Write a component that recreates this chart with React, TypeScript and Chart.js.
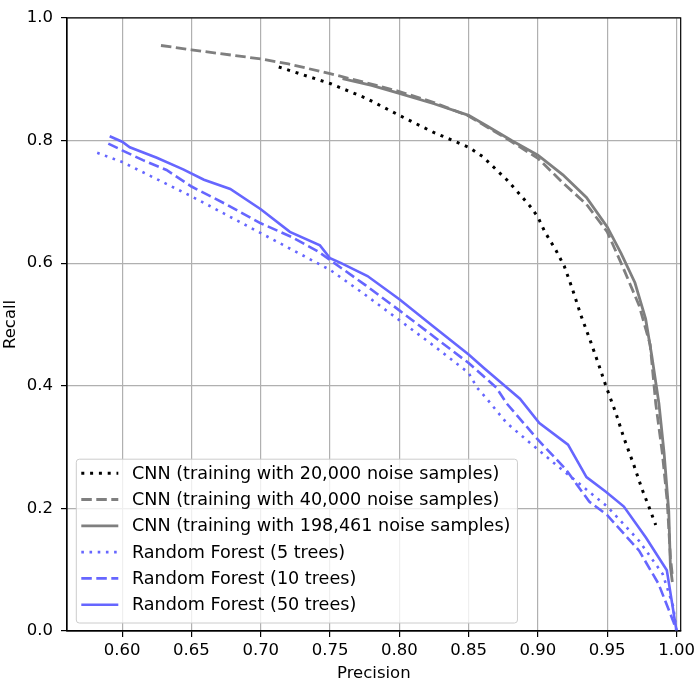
import React, { useEffect, useRef } from 'react';
import { Chart, registerables } from 'chart.js';

Chart.register(...registerables);

// precision / recall pairs
const cnn20kPrecision = [0.713, 0.75, 0.776, 0.8, 0.824, 0.85, 0.86, 0.8775, 0.887, 0.895, 0.9, 0.905, 0.913, 0.919, 0.925, 0.931, 0.938, 0.943, 0.949, 0.956, 0.962, 0.969, 0.975, 0.98, 0.985];
const cnn20kRecall = [0.92, 0.893, 0.869, 0.841, 0.814, 0.789, 0.774, 0.736, 0.712, 0.691, 0.675, 0.651, 0.621, 0.595, 0.557, 0.515, 0.472, 0.44, 0.4, 0.357, 0.315, 0.272, 0.232, 0.203, 0.173];

const cnn40kPrecision = [0.628, 0.65, 0.7, 0.72, 0.75, 0.775, 0.8, 0.825, 0.85, 0.8775, 0.9, 0.918, 0.935, 0.95, 0.961, 0.973, 0.981, 0.985, 0.9897, 0.9933, 0.9956, 0.997];
const cnn40kRecall = [0.955, 0.948, 0.933, 0.925, 0.909, 0.895, 0.88, 0.862, 0.84, 0.803, 0.771, 0.731, 0.696, 0.651, 0.595, 0.531, 0.467, 0.371, 0.291, 0.211, 0.12, 0.09];

const cnn198kPrecision = [0.759, 0.78, 0.8, 0.825, 0.85, 0.863, 0.881, 0.9, 0.918, 0.935, 0.95, 0.96, 0.97, 0.9777, 0.982, 0.9873, 0.991, 0.9944, 0.9956, 0.997];
const cnn198kRecall = [0.901, 0.89, 0.877, 0.86, 0.841, 0.824, 0.8, 0.776, 0.744, 0.707, 0.659, 0.616, 0.568, 0.509, 0.451, 0.371, 0.291, 0.195, 0.104, 0.08];

const rf5Precision = [0.582, 0.6, 0.65, 0.7, 0.75, 0.775, 0.8, 0.825, 0.85, 0.856, 0.863, 0.8775, 0.9, 0.911, 0.937, 0.95, 0.973, 0.99, 0.9976, 1.0];
const rf5Recall = [0.78, 0.765, 0.709, 0.649, 0.589, 0.549, 0.507, 0.465, 0.421, 0.397, 0.379, 0.339, 0.296, 0.275, 0.227, 0.203, 0.147, 0.093, 0.04, 0.0];

const rf10Precision = [0.59, 0.6, 0.615, 0.632, 0.65, 0.675, 0.7, 0.722, 0.7415, 0.75, 0.775, 0.8, 0.825, 0.85, 0.87, 0.8775, 0.9, 0.92, 0.937, 0.95, 0.973, 0.987, 0.9976, 1.0];
const rf10Recall = [0.795, 0.784, 0.768, 0.752, 0.725, 0.696, 0.665, 0.643, 0.619, 0.605, 0.565, 0.523, 0.48, 0.437, 0.397, 0.371, 0.312, 0.264, 0.211, 0.189, 0.131, 0.077, 0.016, 0.0];

const rf50Precision = [0.591, 0.6, 0.6055, 0.625, 0.644, 0.659, 0.678, 0.7, 0.721, 0.7427, 0.75, 0.758, 0.777, 0.8, 0.825, 0.85, 0.861, 0.8775, 0.887, 0.901, 0.9217, 0.935, 0.949, 0.962, 0.978, 0.993, 1.0];
const rf50Recall = [0.807, 0.798, 0.789, 0.772, 0.753, 0.736, 0.721, 0.688, 0.651, 0.629, 0.608, 0.6, 0.579, 0.541, 0.496, 0.451, 0.429, 0.397, 0.379, 0.339, 0.304, 0.251, 0.227, 0.203, 0.152, 0.099, 0.0];

const seriesLabels = [
  'CNN (training with 20,000 noise samples)',
  'CNN (training with 40,000 noise samples)',
  'CNN (training with 198,461 noise samples)',
  'Random Forest (5 trees)',
  'Random Forest (10 trees)',
  'Random Forest (50 trees)',
];

const xTicks = [0.6, 0.65, 0.7, 0.75, 0.8, 0.85, 0.9, 0.95, 1.0];
const yTicks = [0.0, 0.2, 0.4, 0.6, 0.8, 1.0];

const FONT = 'DejaVu Sans';

const pts = (xs: number[], ys: number[]) => xs.map((x, i) => ({ x, y: ys[i] }));

// top + right spines
const boxPlugin = {
  id: 'boxSpines',
  afterDatasetsDraw(chart: any) {
    const { ctx, chartArea } = chart;
    ctx.save();
    ctx.strokeStyle = '#000';
    ctx.lineWidth = 1.2;
    ctx.strokeRect(chartArea.left, chartArea.top, chartArea.right - chartArea.left, chartArea.bottom - chartArea.top);
    ctx.restore();
  },
};

// matplotlib-like legend box inside the axes (lower left)
const legendPlugin = {
  id: 'boxLegend',
  afterDraw(chart: any) {
    const { ctx, chartArea } = chart;
    const datasets = chart.data.datasets;
    const rowH = 26.3;
    ctx.save();
    ctx.font = `17.6px "${FONT}"`;
    let maxW = 0;
    datasets.forEach((ds: any) => {
      maxW = Math.max(maxW, ctx.measureText(ds.label).width);
    });
    const w = 55.7 + maxW + 7;
    const h = rowH * datasets.length + 6;
    const x = chartArea.left + 9.3;
    const y = chartArea.bottom - 8 - h;
    ctx.beginPath();
    ctx.roundRect(x, y, w, h, 3);
    ctx.fillStyle = 'rgba(255,255,255,0.8)';
    ctx.fill();
    ctx.strokeStyle = '#cccccc';
    ctx.lineWidth = 1;
    ctx.stroke();
    datasets.forEach((ds: any, i: number) => {
      const cy = y + 14 + i * rowH;
      ctx.beginPath();
      ctx.setLineDash(ds.borderDash || []);
      ctx.strokeStyle = ds.borderColor;
      ctx.lineWidth = ds.borderWidth;
      ctx.moveTo(x + 5, cy);
      ctx.lineTo(x + 42, cy);
      ctx.stroke();
      ctx.setLineDash([]);
      ctx.fillStyle = '#000';
      ctx.textBaseline = 'middle';
      ctx.textAlign = 'left';
      ctx.fillText(ds.label, x + 55.7, cy + 1);
    });
    ctx.restore();
  },
};

const App: React.FC = () => {
  const chartRef = useRef<HTMLCanvasElement>(null);
  const chartInstance = useRef<Chart | null>(null);

  useEffect(() => {
    if (chartRef.current) {
      const ctx = chartRef.current.getContext('2d');

      if (chartInstance.current) {
        chartInstance.current.destroy();
      }

      const gray = '#7f7f7f';
      const blue = '#6666ff';

      chartInstance.current = new Chart(ctx as CanvasRenderingContext2D, {
        type: 'scatter',
        data: {
          datasets: [
            { label: seriesLabels[0], data: pts(cnn20kPrecision, cnn20kRecall), borderColor: '#000', borderWidth: 3, borderDash: [3, 5.8] },
            { label: seriesLabels[1], data: pts(cnn40kPrecision, cnn40kRecall), borderColor: gray, borderWidth: 2.8, borderDash: [10.5, 4.5] },
            { label: seriesLabels[2], data: pts(cnn198kPrecision, cnn198kRecall), borderColor: gray, borderWidth: 2.8 },
            { label: seriesLabels[3], data: pts(rf5Precision, rf5Recall), borderColor: blue, borderWidth: 2.6, borderDash: [2.6, 5.6] },
            { label: seriesLabels[4], data: pts(rf10Precision, rf10Recall), borderColor: blue, borderWidth: 2.6, borderDash: [10.5, 4.5] },
            { label: seriesLabels[5], data: pts(rf50Precision, rf50Recall), borderColor: blue, borderWidth: 2.6 },
          ].map((d) => ({ ...d, showLine: true, pointRadius: 0, backgroundColor: 'transparent', tension: 0 })) as any,
        },
        options: {
          animation: false,
          responsive: false,
          layout: { padding: { top: 7, right: 15, left: 0, bottom: 0 } },
          plugins: {
            legend: { display: false },
            tooltip: { enabled: false },
          },
          scales: {
            x: {
              type: 'linear',
              min: 0.5602,
              max: 1.003,
              afterBuildTicks: (scale: any) => {
                scale.ticks = xTicks.map((value) => ({ value }));
              },
              afterFit: (scale: any) => {
                scale.height = 53;
              },
              ticks: {
                color: '#000',
                font: { family: FONT, size: 16.5 },
                padding: 4,
                maxRotation: 0,
                callback: (v: any) => Number(v).toFixed(2),
              },
              grid: {
                color: '#b0b0b0',
                lineWidth: 1.2,
                tickColor: '#000',
                tickLength: 6,
                tickWidth: 1.2,
              },
              border: { display: true, color: '#000', width: 1.2 },
              title: {
                display: true,
                text: 'Precision',
                color: '#000',
                font: { family: FONT, size: 16.5 },
                padding: { top: 0, bottom: 0 },
              },
            },
            y: {
              type: 'linear',
              min: 0,
              max: 1,
              afterBuildTicks: (scale: any) => {
                scale.ticks = yTicks.map((value) => ({ value }));
              },
              afterFit: (scale: any) => {
                scale.width = 67;
              },
              ticks: {
                color: '#000',
                font: { family: FONT, size: 16.5 },
                padding: 8,
                callback: (v: any) => Number(v).toFixed(1),
              },
              grid: {
                color: '#b0b0b0',
                lineWidth: 1.2,
                tickColor: '#000',
                tickLength: 6,
                tickWidth: 1.2,
              },
              border: { display: true, color: '#000', width: 1.2 },
              title: {
                display: true,
                text: 'Recall',
                color: '#000',
                font: { family: FONT, size: 16.5 },
                padding: { top: 1, bottom: 0 },
              },
            },
          },
        },
        plugins: [boxPlugin, legendPlugin],
      });
    }

    return () => {
      if (chartInstance.current) {
        chartInstance.current.destroy();
        chartInstance.current = null;
      }
    };
  }, []);

  return (
    <div style={{ position: 'fixed', left: 0, top: 0, width: 699, height: 684, background: '#fff' }}>
      <canvas ref={chartRef} width={699} height={684} />
    </div>
  );
};

export default App;
